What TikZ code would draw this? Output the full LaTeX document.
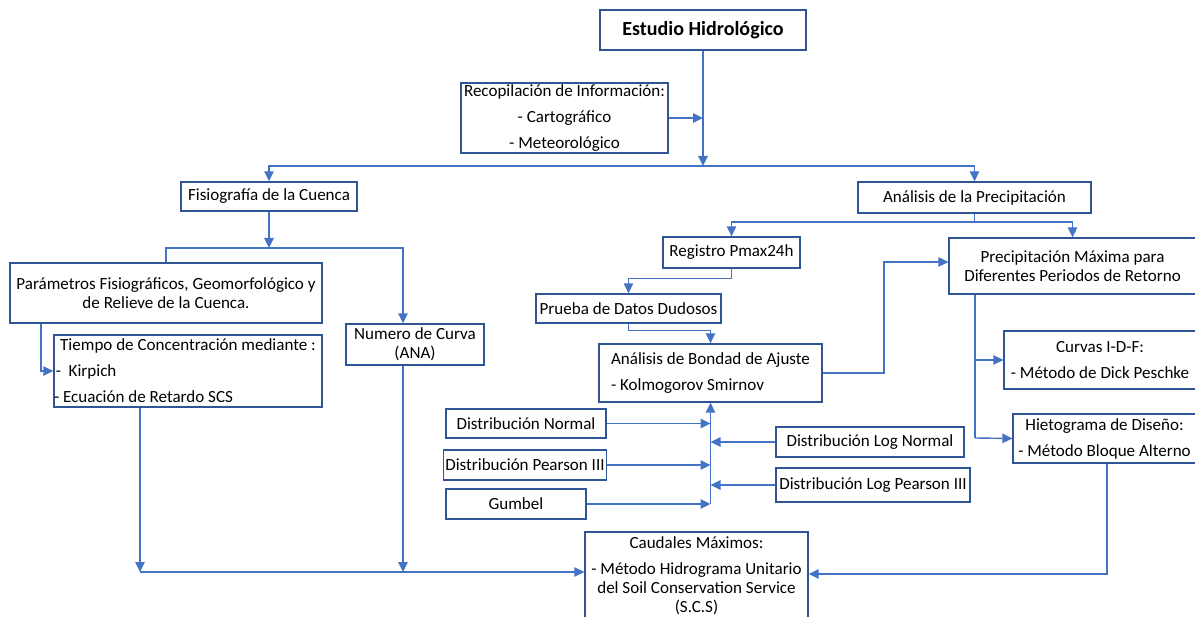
\documentclass[tikz,border=0pt]{standalone}
\usepackage{fontspec}
\setmainfont{Carlito}
\usepackage{tikz}
\usetikzlibrary{arrows.meta}
\definecolor{boxblue}{RGB}{47,85,151}
\definecolor{lineblue}{RGB}{68,114,196}

\begin{document}
\begin{tikzpicture}[
  x=0.02cm, y=-0.02cm,
  every node/.style={font=\fontsize{9.7}{10.8}\selectfont},
  box/.style 2 args={draw=boxblue, line width=0.8pt, align=center, inner sep=1pt, minimum width=#1, minimum height=#2},
  link/.style={line width=0.8pt, lineblue},
  arr/.style={-{Triangle[length=0.2cm, width=0.19cm]}, line width=0.8pt, lineblue}
]
  \useasboundingbox (0,0) rectangle (1195,617);

  % Top
  \node[box={4.12cm}{0.8cm}, line width=1.2pt, font=\fontsize{11.4}{13}\selectfont\bfseries] (estudio) at (703,30) {Estudio Hidrológico};
  \node[box={4.14cm}{1.4cm}] (recop) at (564.5,118) {Recopilación de Información:\\[4pt] - Cartográfico\\[4pt] - Meteorológico};

  % Layer 1
  \node[box={3.52cm}{0.58cm}] (fisio) at (269,196.5) {Fisiografía de la Cuenca};
  \node[box={4.66cm}{0.62cm}] (analp) at (974.5,197.5) {Análisis de la Precipitación};

  % Cuenca
  \node[box={6.24cm}{1.2cm}] (param) at (166,293) {Parámetros Fisiográficos, Geomorfológico y\\ de Relieve de la Cuenca.};
  \node[box={5.36cm}{1.44cm}, align=left, inner xsep=0pt] (tiempo) at (188,371) {Tiempo de Concentración mediante :\\[4pt] \hspace*{-2.5pt}-\ \ Kirpich\\[4pt] \hspace*{-3.5pt}- Ecuación de Retardo SCS};
  \node[box={2.76cm}{0.82cm}, inner sep=0pt] (numcur) at (415,344.5) {Numero de Curva\\(ANA)};

  % Precipitacion
  \node[box={2.74cm}{0.62cm}] (regis) at (731.5,252.5) {Registro Pmax24h};
  \node[box={3.7cm}{0.58cm}] (prueba) at (628.5,308.5) {Prueba de Datos Dudosos};
  \node[box={4.46cm}{1.16cm}, align=left] (bondad) at (710.5,373) {Análisis de Bondad de Ajuste\\[4pt] - Kolmogorov Smirnov};
  \node[box={4.94cm}{1.12cm}] (precmax) at (1072.5,266) {Precipitación Máxima para\\ Diferentes Periodos de Retorno};
  \node[box={3.84cm}{1.16cm}] (curvas) at (1100,360) {Curvas I-D-F:\\[4pt] - Método de Dick Peschke};
  \node[box={3.66cm}{0.98cm}] (hieto) at (1104.5,438.5) {Hietograma de Diseño:\\[4pt] - Método Bloque Alterno};

  % Distribuciones
  \node[box={3.2cm}{0.58cm}] (dnorm) at (526,423.5) {Distribución Normal};
  \node[box={3.24cm}{0.6cm}] (dpear) at (525,465) {Distribución Pearson III};
  \node[box={2.8cm}{0.6cm}] (gumbel) at (516,504) {Gumbel};
  \node[box={3.76cm}{0.6cm}] (dlogn) at (870,442) {Distribución Log Normal};
  \node[box={3.88cm}{0.68cm}, inner sep=0pt] (dlogp) at (873,485) {Distribución Log Pearson III};

  % Result
  \node[box={4.46cm}{1.76cm}] (caudal) at (696.5,576) {Caudales Máximos:\\[4pt] - Método Hidrograma Unitario\\ del Soil Conservation Service\\ (S.C.S)};

  % Junctions
  \coordinate (jtop) at (703,166);
  \coordinate (jfis) at (269,248);
  \coordinate (jpar) at (41,372);
  \coordinate (jcau) at (140,572);
  \coordinate (jcn) at (403,572);
  \coordinate (jan) at (974.5,222);
  \coordinate (jbp) at (884,262);
  \coordinate (jpm) at (975,438);
  \coordinate (jhi) at (1107,574);

  % Connectors
  \draw[arr] (estudio) -- (jtop);
  \draw[arr] (recop.east) -- (recop.east -| jtop);
  \draw[arr] (jtop) -| (fisio.north);
  \draw[arr] (jtop) -| (analp.north);
  \draw[arr] (fisio) -- (jfis);
  \draw[link] (jfis) -| (param.north);
  \draw[arr] (jfis) -| (numcur.north -| jcn);
  \draw[arr] (param.south -| jpar) |- (tiempo.west);
  \draw[arr] (tiempo.south -| jcau) -- (jcau);
  \draw[arr] (numcur.south -| jcn) -- (jcn);
  \draw[arr] (jcau) -- (caudal.west |- jcau);
  \draw[link] (analp) -- (jan);
  \draw[arr] (jan) -| (regis.north);
  \draw[arr] (jan) -| (precmax.north);
  \draw[arr] (regis.south) -- ++(0,10) -| (prueba.north);
  \draw[arr] (prueba.south) -- ++(0,7) -| (bondad.north);
  \draw[arr] (bondad.east) -| (jbp) -- (precmax.west |- jbp);
  \draw[link] (precmax.south -| jpm) -- (jpm);
  \draw[arr] (precmax.south -| jpm) |- (curvas.west);
  \draw[arr] (jpm) -- (hieto.west);
  \draw[arr] (hieto.south -| jhi) |- (caudal.east |- jhi);
  \draw[arr] (bondad.south |- gumbel) -- (bondad.south);
  \draw[arr] (dnorm) -- (dnorm -| bondad.south);
  \draw[arr] (dpear) -- (dpear -| bondad.south);
  \draw[arr] (gumbel) -- (gumbel -| bondad.south);
  \draw[arr] (dlogn) -- (dlogn -| bondad.south);
  \draw[arr] (dlogp) -- (dlogp -| bondad.south);
\end{tikzpicture}
\end{document}
